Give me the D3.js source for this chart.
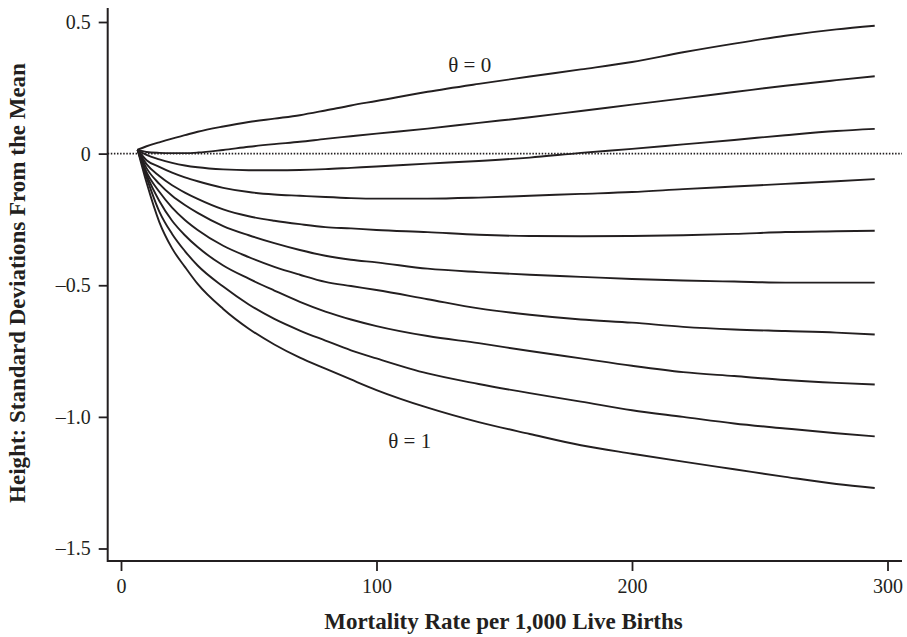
<!DOCTYPE html>
<html>
<head>
<meta charset="utf-8">
<script src="https://cdn.jsdelivr.net/npm/d3@7"></script>
<style>
	body { margin: 0; background: #fff; }
	svg text { font-family: "Liberation Serif", "Times New Roman", serif; fill: #231f20; }
</style>
</head>
<body>
<div id="chart"></div>
<script>
// mortality rate per 1,000 live births (x positions of the simulated points)
var mortality = [6.5, 10, 15, 20, 25, 30, 40, 50, 60, 70, 80, 90, 100, 120, 140, 160, 180, 200, 220, 240, 260, 280, 295];

// height in SD from the mean, one array per theta curve (top = theta 0, bottom = theta 1)
var curve0 = [0.015, 0.028, 0.043, 0.057, 0.07, 0.083, 0.103, 0.12, 0.133, 0.146, 0.164, 0.183, 0.2, 0.235, 0.265, 0.293, 0.32, 0.348, 0.385, 0.418, 0.448, 0.472, 0.486];
var curve1 = [0.015, 0.006, 0.003, 0.002, 0.002, 0.004, 0.014, 0.026, 0.036, 0.045, 0.056, 0.066, 0.076, 0.095, 0.117, 0.138, 0.162, 0.186, 0.21, 0.234, 0.258, 0.279, 0.294];
var curve2 = [0.015, -0.005, -0.022, -0.035, -0.045, -0.052, -0.06, -0.063, -0.063, -0.062, -0.059, -0.054, -0.049, -0.038, -0.028, -0.015, 0.003, 0.018, 0.035, 0.052, 0.07, 0.086, 0.094];
var curve3 = [0.015, -0.025, -0.05, -0.072, -0.09, -0.105, -0.13, -0.146, -0.155, -0.16, -0.165, -0.169, -0.171, -0.171, -0.167, -0.16, -0.153, -0.146, -0.135, -0.125, -0.115, -0.105, -0.097];
var curve4 = [0.015, -0.04, -0.085, -0.12, -0.148, -0.172, -0.212, -0.238, -0.255, -0.268, -0.279, -0.284, -0.29, -0.298, -0.308, -0.313, -0.314, -0.313, -0.31, -0.305, -0.298, -0.295, -0.293];
var curve5 = [0.015, -0.055, -0.115, -0.16, -0.195, -0.225, -0.275, -0.31, -0.34, -0.366, -0.388, -0.403, -0.413, -0.437, -0.45, -0.46, -0.468, -0.476, -0.482, -0.486, -0.49, -0.49, -0.49];
var curve6 = [0.015, -0.07, -0.145, -0.205, -0.252, -0.29, -0.35, -0.393, -0.43, -0.46, -0.487, -0.503, -0.518, -0.553, -0.588, -0.612, -0.63, -0.642, -0.658, -0.668, -0.674, -0.68, -0.687];
var curve7 = [0.015, -0.08, -0.18, -0.255, -0.31, -0.355, -0.425, -0.475, -0.52, -0.563, -0.6, -0.63, -0.655, -0.693, -0.72, -0.75, -0.778, -0.806, -0.83, -0.845, -0.86, -0.871, -0.877];
var curve8 = [0.015, -0.09, -0.22, -0.305, -0.37, -0.425, -0.505, -0.573, -0.628, -0.672, -0.71, -0.747, -0.778, -0.835, -0.875, -0.91, -0.942, -0.975, -1.0, -1.025, -1.044, -1.062, -1.074];
var curve9 = [0.015, -0.11, -0.26, -0.36, -0.43, -0.495, -0.59, -0.665, -0.725, -0.775, -0.817, -0.858, -0.898, -0.965, -1.02, -1.065, -1.108, -1.14, -1.17, -1.199, -1.228, -1.255, -1.27];

var xTicks = [0, 100, 200, 300];
var yTicks = [0.5, 0, -0.5, -1.0, -1.5];
var yTickLabels = ["0.5", "0", "\u20130.5", "\u20131.0", "\u20131.5"];

// curve labels: [text, mortality, height]
var labelTop = ["\u03b8 = 0", 136.5, 0.31];
var labelBottom = ["\u03b8 = 1", 113, -1.12];

makeChart();

function makeChart()
{
	var width = 907;
	var height = 637;
	var ink = "#231f20";

	var svg = d3.select("#chart")
	.append("svg")
	.attr("width", width)
	.attr("height", height);

	var x = d3.scaleLinear().domain([0, 300]).range([121, 887.5]);
	var y = d3.scaleLinear().domain([-1.5, 0.5]).range([548.5, 22]);

	var frameLeft = 107.7;
	var frameBottom = 561;
	var frameTop = 8;
	var frameRight = 902;

	/*
	 * axes: ticks only, the L frame is drawn separately because
	 * it sticks out past the scale ranges
	 */
	var yAxis = d3.axisLeft(y)
	.tickValues(yTicks)
	.tickFormat(function(d, i) { return yTickLabels[i]; })
	.tickSize(9)
	.tickPadding(8);

	var gy = svg.append("g")
	.attr("transform", "translate(" + frameLeft + ",0)")
	.call(yAxis);

	var xAxis = d3.axisBottom(x)
	.tickValues(xTicks)
	.tickFormat(d3.format("d"))
	.tickSize(10)
	.tickPadding(8);

	var gx = svg.append("g")
	.attr("transform", "translate(0," + frameBottom + ")")
	.call(xAxis);

	[gx, gy].forEach(function(g) {
		g.select(".domain").remove();
		g.selectAll(".tick line").attr("stroke", ink).attr("stroke-width", 1.8);
		g.selectAll(".tick text")
		.style("font-family", "'Liberation Serif', serif")
		.style("font-size", "20px")
		.attr("fill", ink);
	});

	svg.append("path")
	.attr("d", "M" + frameLeft + "," + frameTop + "V" + frameBottom + "H" + frameRight)
	.attr("fill", "none")
	.attr("stroke", ink)
	.attr("stroke-width", 2);

	// zero reference line
	svg.append("line")
	.attr("x1", frameLeft)
	.attr("x2", frameRight)
	.attr("y1", y(0))
	.attr("y2", y(0))
	.attr("stroke", ink)
	.attr("stroke-width", 1.6)
	.attr("stroke-dasharray", "1.5,1.6");

	var curves = [curve0, curve1, curve2, curve3, curve4, curve5, curve6, curve7, curve8, curve9];

	var line = d3.line()
	.x(function(d, i) { return x(mortality[i]); })
	.y(function(d) { return y(d); })
	.curve(d3.curveMonotoneX);

	svg.append("g")
	.selectAll("path")
	.data(curves)
	.enter()
	.append("path")
	.attr("d", line)
	.attr("fill", "none")
	.attr("stroke", ink)
	.attr("stroke-width", 1.9)
	.attr("stroke-linejoin", "round");

	[labelTop, labelBottom].forEach(function(l) {
		svg.append("text")
		.attr("x", x(l[1]))
		.attr("y", y(l[2]))
		.attr("text-anchor", "middle")
		.style("font-size", "21px")
		.text(l[0]);
	});

	// axis titles
	svg.append("text")
	.attr("x", 503.5)
	.attr("y", 629)
	.attr("text-anchor", "middle")
	.style("font-size", "23px")
	.style("font-weight", "bold")
	.text("Mortality Rate per 1,000 Live Births");

	svg.append("text")
	.attr("transform", "translate(25,283) rotate(-90)")
	.attr("text-anchor", "middle")
	.style("font-size", "23px")
	.style("font-weight", "bold")
	.text("Height: Standard Deviations From the Mean");
}
</script>
</body>
</html>
